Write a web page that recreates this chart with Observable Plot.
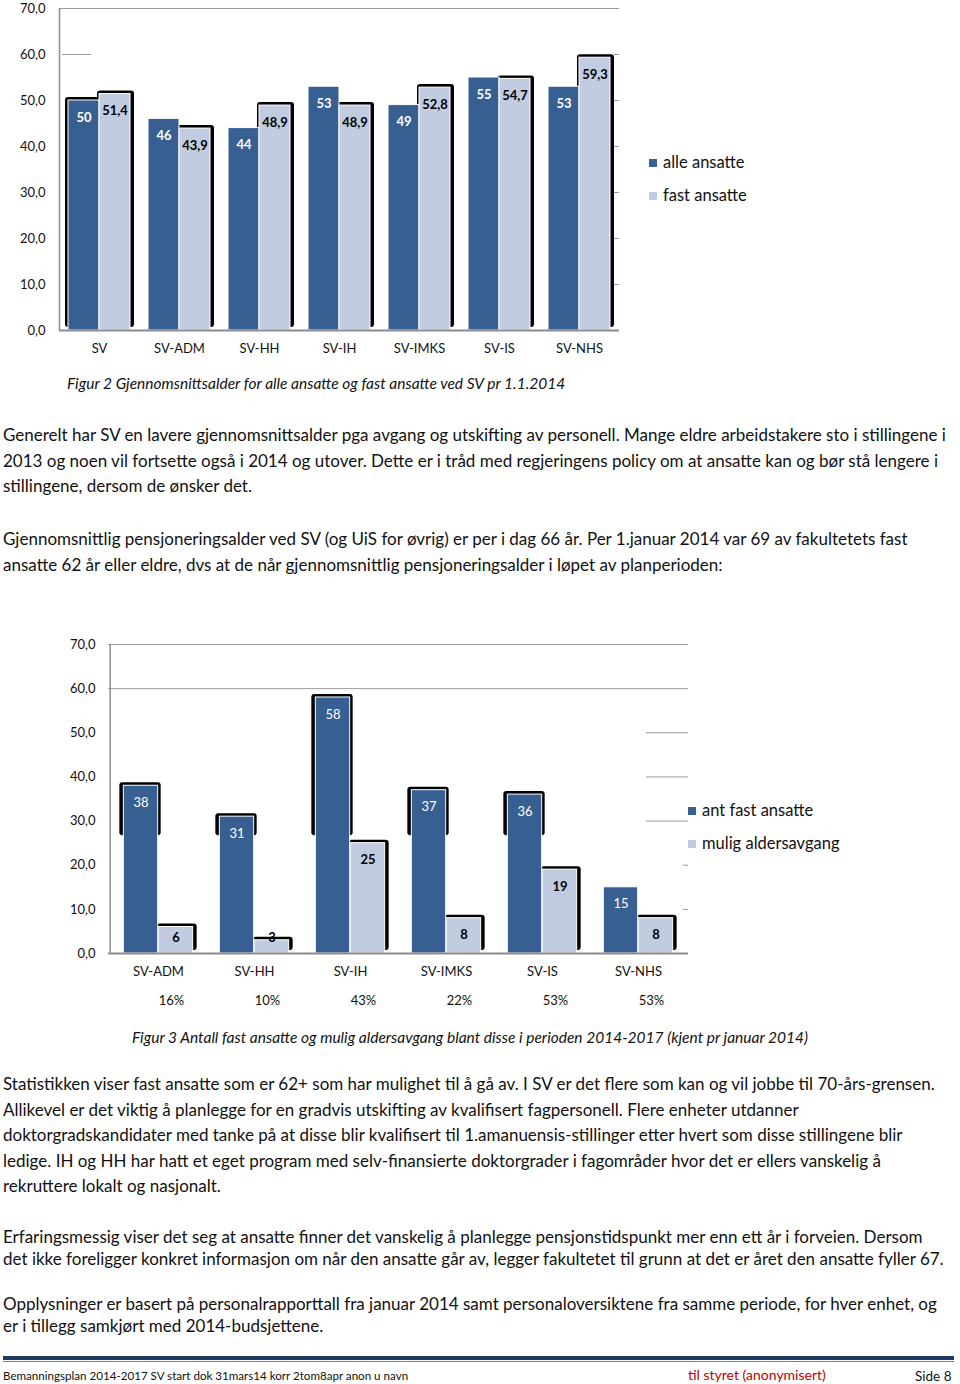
<!DOCTYPE html>
<html>
<head>
<meta charset="utf-8">
<script src="https://cdn.jsdelivr.net/npm/d3@7"></script>
<script src="https://cdn.jsdelivr.net/npm/@observablehq/plot@0.6"></script>
<style>
  html, body { margin: 0; padding: 0; background: #fff; }
  #page { position: relative; width: 960px; height: 1384px; overflow: hidden; font-family: Lato, "Open Sans", sans-serif; color: #111; }
  .abs { position: absolute; white-space: nowrap; }
  .para { font-size: 17px; line-height: 25.5px; left: 3px; }
  .cap { font-style: italic; font-size: 15.5px; line-height: 18px; }
  .leg { font-size: 16.5px; line-height: 20px; }
  .sw { display: inline-block; width: 8px; height: 8px; margin-right: 6px; vertical-align: 1px; }
  .foot { font-size: 11.6px; line-height: 14px; top: 1369px; }
</style>
</head>
<body>
<div id="page">
  <div id="chart1" class="abs" style="left:0;top:0"></div>
  <div class="abs leg" style="left:649px;top:152px"><span class="sw" style="background:#375f92"></span>alle ansatte</div>
  <div class="abs leg" style="left:649px;top:185px"><span class="sw" style="background:#c1cce0"></span>fast ansatte</div>
  <div class="abs cap" style="left:67px;top:374px">Figur 2 Gjennomsnittsalder for alle ansatte og fast ansatte ved SV pr 1.1.2014</div>

  <div class="abs para" style="top:422px">Generelt har SV en lavere gjennomsnittsalder pga avgang og utskifting av personell. Mange eldre arbeidstakere sto i stillingene i<br>2013 og noen vil fortsette også i 2014 og utover. Dette er i tråd med regjeringens policy om at ansatte kan og bør stå lengere i<br>stillingene, dersom de ønsker det.</div>
  <div class="abs para" style="top:526px">Gjennomsnittlig pensjoneringsalder ved SV (og UiS for øvrig) er per i dag 66 år. Per 1.januar 2014 var 69 av fakultetets fast<br>ansatte 62 år eller eldre, dvs at de når gjennomsnittlig pensjoneringsalder i løpet av planperioden:</div>

  <div id="chart2" class="abs" style="left:0;top:620px"></div>
  <div class="abs leg" style="left:688px;top:800px"><span class="sw" style="background:#375f92"></span>ant fast ansatte</div>
  <div class="abs leg" style="left:688px;top:833px"><span class="sw" style="background:#c1cce0"></span>mulig aldersavgang</div>
  <div class="abs cap" style="left:132px;top:1028px">Figur 3 Antall fast ansatte og mulig aldersavgang blant disse i perioden 2014-2017 (kjent pr januar 2014)</div>

  <div class="abs para" style="top:1071px">Statistikken viser fast ansatte som er 62+ som har mulighet til å gå av. I SV er det flere som kan og vil jobbe til 70-års-grensen.<br>Allikevel er det viktig å planlegge for en gradvis utskifting av kvalifisert fagpersonell. Flere enheter utdanner<br>doktorgradskandidater med tanke på at disse blir kvalifisert til 1.amanuensis-stillinger etter hvert som disse stillingene blir<br>ledige. IH og HH har hatt et eget program med selv-finansierte doktorgrader i fagområder hvor det er ellers vanskelig å<br>rekruttere lokalt og nasjonalt.</div>
  <div class="abs para" style="top:1226px;line-height:22px">Erfaringsmessig viser det seg at ansatte finner det vanskelig å planlegge pensjonstidspunkt mer enn ett år i forveien. Dersom<br>det ikke foreligger konkret informasjon om når den ansatte går av, legger fakultetet til grunn at det er året den ansatte fyller 67.</div>
  <div class="abs para" style="top:1293px;line-height:22px">Opplysninger er basert på personalrapporttall fra januar 2014 samt personaloversiktene fra samme periode, for hver enhet, og<br>er i tillegg samkjørt med 2014-budsjettene.</div>

  <div class="abs" style="left:3px;top:1356px;width:951px;height:4px;background:#1f3a60"></div>
  <div class="abs" style="left:3px;top:1361px;width:951px;height:1px;background:#6d7f99"></div>
  <div class="abs foot" style="left:3px">Bemanningsplan 2014-2017 SV start dok 31mars14 korr 2tom8apr anon u navn</div>
  <div class="abs foot" style="left:688px;color:#c00000;font-size:14px;top:1367px;line-height:16px">til styret (anonymisert)</div>
  <div class="abs foot" style="left:915px;font-size:13.5px;top:1368px;line-height:16px">Side 8</div>
</div>
<script>
// ---- Data: Figur 2 ----
const cats1 = ["SV", "SV-ADM", "SV-HH", "SV-IH", "SV-IMKS", "SV-IS", "SV-NHS"];
const alleAnsatte = [50, 46, 44, 53, 49, 55, 53];
const fastAnsatte = [51.4, 43.9, 48.9, 48.9, 52.8, 54.7, 59.3];
const yTicks1 = [0, 10, 20, 30, 40, 50, 60, 70];

// ---- Data: Figur 3 ----
const cats2 = ["SV-ADM", "SV-HH", "SV-IH", "SV-IMKS", "SV-IS", "SV-NHS"];
const antFastAnsatte = [38, 31, 58, 37, 36, 15];
const muligAldersavgang = [6, 3, 25, 8, 19, 8];
const andelAvgang = ["16%", "10%", "43%", "22%", "53%", "53%"];
const yTicks2 = [0, 10, 20, 30, 40, 50, 60, 70];

const DARK = "#375f92";
const LIGHT = "#c1cce0";
const GRID = "#9a9a9a";
const AXIS = "#8c8c8c";
const fmtTick = d => d.toFixed(1).replace(".", ",");
const fmtVal = v => String(v).replace(".", ",");

// ---------- Chart 1 ----------
const d1 = cats1.map((c, i) => ({cat: c, alle: alleAnsatte[i], fast: fastAnsatte[i]}));
const w1 = 640, ml1 = 59, mr1 = 21;
const bw1 = (w1 - ml1 - mr1) / cats1.length; // 80
const half1 = bw1 / 2, barW1 = 31;
const c1 = Plot.plot({
  width: w1, height: 360, marginLeft: ml1, marginRight: mr1, marginTop: 8, marginBottom: 30,
  style: {fontFamily: "Lato, 'Open Sans', sans-serif", fontSize: "13px", color: "#111", background: "transparent"},
  x: {type: "band", domain: cats1, padding: 0, tickSize: 0, tickPadding: 13, label: null},
  y: {domain: [0, 70], ticks: yTicks1, tickSize: 0, tickPadding: 14, tickFormat: fmtTick, label: null},
  marks: [
    Plot.ruleY([70], {stroke: GRID, strokeWidth: 1}),
    Plot.ruleY([60], {stroke: GRID, insetLeft: 3, insetRight: 528}),
    Plot.ruleY([10, 20, 30, 40, 50, 60], {stroke: GRID, insetLeft: bw1 * cats1.length - 5}),
    // shadow artifacts behind bars
    Plot.barY(d1.filter(d => d.cat === "SV"), {x: "cat", y: "alle", fill: "#000", insetLeft: half1 - barW1 - 3, insetRight: half1, dy: -3, rx: 3}),
    Plot.barY(d1, {x: "cat", y: "fast", fill: "#000", insetLeft: half1 - 2, insetRight: half1 - barW1 - 4, dy: -3, rx: 3}),
    // bars
    Plot.barY(d1, {x: "cat", y: "alle", fill: DARK, stroke: "white", strokeWidth: 1, insetLeft: half1 - barW1, insetRight: half1}),
    Plot.barY(d1, {x: "cat", y: "fast", fill: LIGHT, stroke: "white", strokeWidth: 1, insetLeft: half1, insetRight: half1 - barW1}),
    Plot.text(d1, {x: "cat", y: "alle", text: d => fmtVal(d.alle), dy: 17, dx: -barW1 / 2, fill: "white", fontWeight: "bold", fontSize: 13}),
    Plot.text(d1, {x: "cat", y: "fast", text: d => fmtVal(d.fast), dy: 17, dx: barW1 / 2, fill: "#000", fontWeight: "bold", fontSize: 13}),
    Plot.ruleY([0], {stroke: AXIS, strokeWidth: 2}),
    Plot.ruleX([cats1[0]], {y1: 0, y2: 70, dx: -half1, stroke: AXIS, strokeWidth: 1.5})
  ]
});
document.getElementById("chart1").appendChild(c1);

// ---------- Chart 2 ----------
const d2 = cats2.map((c, i) => ({cat: c, ant: antFastAnsatte[i], mulig: muligAldersavgang[i], pct: andelAvgang[i]}));
const w2 = 700, ml2 = 108, mr2 = 12;
const bw2 = (w2 - ml2 - mr2) / cats2.length; // ~96.7
const half2 = bw2 / 2, barW2 = 35;
const c2 = Plot.plot({
  width: w2, height: 393, marginLeft: ml2, marginRight: mr2, marginTop: 24, marginBottom: 60,
  style: {fontFamily: "Lato, 'Open Sans', sans-serif", fontSize: "13px", color: "#111", background: "transparent"},
  x: {type: "band", domain: cats2, padding: 0, tickSize: 0, tickPadding: 13, label: null},
  y: {domain: [0, 70], ticks: yTicks2, tickSize: 0, tickPadding: 13, tickFormat: fmtTick, label: null},
  marks: [
    Plot.ruleY([70, 60], {stroke: GRID, strokeWidth: 1}),
    Plot.ruleY([50, 40, 30], {stroke: GRID, insetLeft: bw2 * cats2.length - 42}),
    Plot.ruleY([20, 10], {stroke: GRID, insetLeft: bw2 * cats2.length - 5}),
    // shadow artifacts
    Plot.barY(d2.filter(d => d.ant > 30), {x: "cat", y1: 26, y2: "ant", fill: "#000", insetLeft: half2 - barW2 - 4, insetRight: half2 - 3, dy: -3, rx: 3}),
    Plot.barY(d2, {x: "cat", y: "mulig", fill: "#000", insetLeft: half2 - 2, insetRight: half2 - barW2 - 4, dy: -3, rx: 3}),
    // bars
    Plot.barY(d2, {x: "cat", y: "ant", fill: DARK, stroke: "white", strokeWidth: 1, insetLeft: half2 - barW2, insetRight: half2}),
    Plot.barY(d2, {x: "cat", y: "mulig", fill: LIGHT, stroke: "white", strokeWidth: 1, insetLeft: half2, insetRight: half2 - barW2}),
    Plot.text(d2, {x: "cat", y: "ant", text: d => fmtVal(d.ant), dy: 17, dx: -barW2 / 2, fill: "white", fontSize: 13}),
    Plot.text(d2, {x: "cat", y: d => Math.max(d.mulig, 7.5), text: d => fmtVal(d.mulig), dy: 17, dx: barW2 / 2, fill: "#000", fontWeight: "bold", fontSize: 13}),
    Plot.text(d2, {x: "cat", y: () => 0, text: "pct", dy: 47, dx: 13, fill: "#111", fontSize: 13}),
    Plot.ruleY([0], {stroke: AXIS, strokeWidth: 2}),
    Plot.ruleX([cats2[0]], {y1: 0, y2: 70, dx: -half2, stroke: AXIS, strokeWidth: 1.5})
  ]
});
document.getElementById("chart2").appendChild(c2);
</script>
</body>
</html>
